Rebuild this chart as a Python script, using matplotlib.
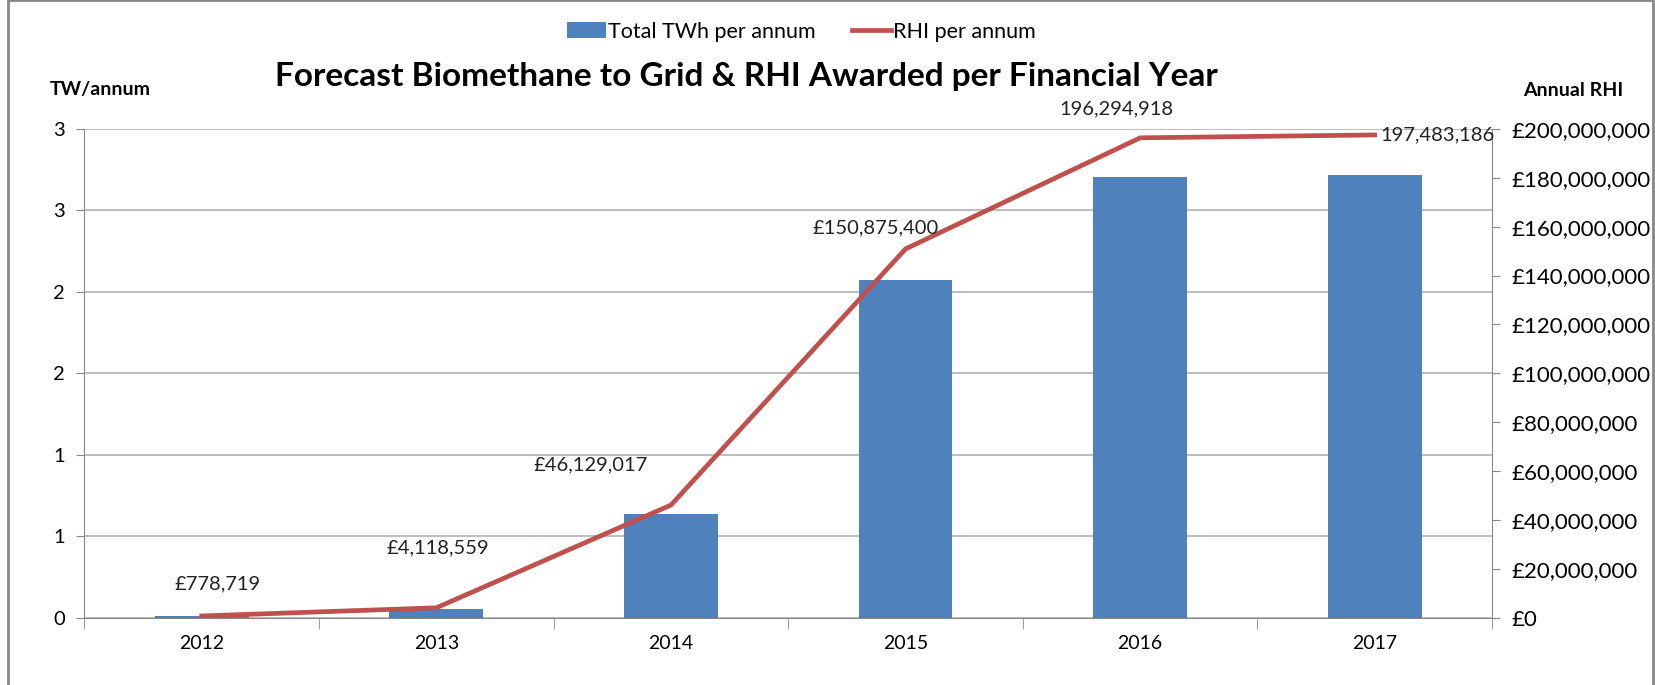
import matplotlib
matplotlib.use('Agg')
import matplotlib.pyplot as plt
import numpy as np
from matplotlib.ticker import FuncFormatter, FixedLocator
from matplotlib.patches import Rectangle

plt.rcParams['font.family'] = ['Lato', 'DejaVu Sans']

years = ['2012', '2013', '2014', '2015', '2016', '2017']
twh = [0.013, 0.055, 0.635, 2.075, 2.705, 2.715]
rhi = [778719, 4118559, 46129017, 150875400, 196294918, 197483186]
rhi_labels = ['£778,719', '£4,118,559', '£46,129,017', '£150,875,400',
              '196,294,918', '197,483,186']
# label offsets in pixels from each point
offs = [(16, 32), (1, 60), (-80, 40), (-30, 21), (-24, 29), (63, 0)]

bar_c = '#4F81BD'
line_c = '#C0504D'
grid_c = '#B8B8B8'
fs = 14.5

fig = plt.figure(figsize=(16.56, 6.85), dpi=100)
ax1 = fig.add_axes([0.051, 0.098, 0.850, 0.714])
x = np.arange(len(years))

ax1.bar(x, twh, width=0.4, color=bar_c, zorder=2, label='Total TWh per annum')
ax1.set_xlim(-0.5, 5.5)
ax1.set_ylim(0, 3)
ax1.set_yticks(np.arange(0, 3.01, 0.5))
ax1.yaxis.set_major_formatter(FuncFormatter(lambda v, p: '%d' % int(v + 0.5)))
ax1.grid(axis='y', color=grid_c, lw=1.3, zorder=0)
ax1.set_xticks(x)
ax1.set_xticklabels(years)
ax1.xaxis.set_minor_locator(FixedLocator(np.arange(-0.5, 5.6, 1)))
ax1.tick_params(axis='x', which='major', length=0, pad=12, labelsize=14)
ax1.tick_params(axis='x', which='minor', length=8, color='#888888', direction='out')
ax1.tick_params(axis='y', length=6, color='#888888', labelsize=fs, pad=8)
for s in ['top', 'right']:
    ax1.spines[s].set_visible(False)
for s in ['left', 'bottom']:
    ax1.spines[s].set_color('#888888')

ax2 = ax1.twinx()
ax2.plot(x, rhi, color=line_c, lw=3.4, zorder=3, label='RHI per annum')
ax2.set_ylim(0, 200000000)
ax2.set_yticks(np.arange(0, 200000001, 20000000))
ax2.yaxis.set_major_formatter(FuncFormatter(lambda v, p: '£{:,.0f}'.format(v)))
ax2.tick_params(axis='y', length=6, color='#888888', labelsize=16, pad=8)
for s in ['top', 'left', 'bottom']:
    ax2.spines[s].set_visible(False)
ax2.spines['right'].set_color('#888888')

for xi, yi, lab, off in zip(x, rhi, rhi_labels, offs):
    ax2.annotate(lab, (xi, yi), xytext=off, textcoords='offset pixels',
                 ha='center', va='center', fontsize=fs, color='#222222')

fig.text(0.451, 0.889, 'Forecast Biomethane to Grid & RHI Awarded per Financial Year',
         ha='center', va='center', fontsize=24, fontweight='bold')
fig.text(0.0606, 0.870, 'TW/annum', ha='center', va='center', fontsize=14, fontweight='bold')
fig.text(0.950, 0.868, 'Annual RHI', ha='center', va='center', fontsize=14, fontweight='bold')

h1, l1 = ax1.get_legend_handles_labels()
h2, l2 = ax2.get_legend_handles_labels()
fig.legend(h1 + h2, l1 + l2, loc='center', bbox_to_anchor=(0.484, 0.954), ncol=2,
           frameon=False, fontsize=15.5, handlelength=1.8, handletextpad=0.1,
           columnspacing=1.7)

fig.add_artist(Rectangle((0.005, -0.05), 0.993, 1.05, transform=fig.transFigure,
                         fill=False, edgecolor='#888888', lw=2))

fig.savefig('out.png', dpi=100, facecolor='white')
